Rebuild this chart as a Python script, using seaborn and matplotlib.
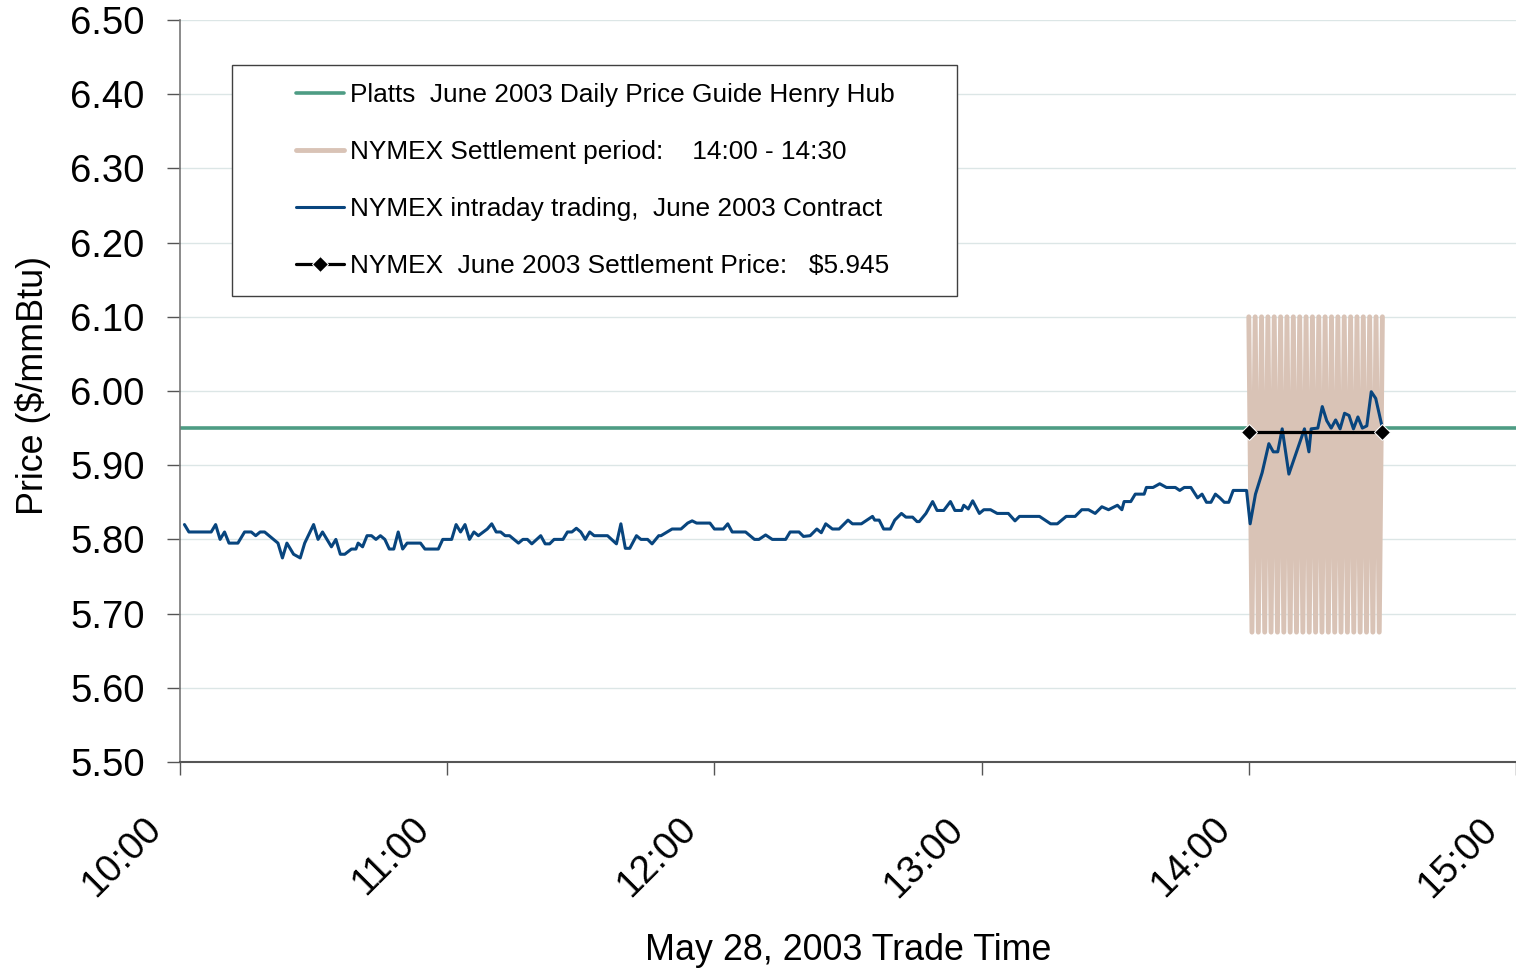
import matplotlib
matplotlib.use("Agg")
import matplotlib.pyplot as plt
import matplotlib.transforms as mtransforms
from matplotlib.patches import Rectangle
from matplotlib.ticker import FormatStrFormatter
import seaborn as sns

# minutes after 10:00 and price of the June 2003 contract
trade_min = [1, 2, 7, 8, 9, 10, 11, 13, 14.5, 16, 17, 18, 19, 21, 22, 23, 24, 25.5, 27, 28,
             30, 31, 32, 34, 35, 36, 37, 38.5, 39.5, 40, 41, 42, 43, 44, 45, 46, 47, 48, 49, 50,
             51, 54, 55, 58, 59, 61, 62, 63, 64, 65, 66, 67, 69, 70, 71, 72, 73, 74, 76, 77,
             78, 79, 81, 82, 83, 84, 86, 87, 88, 89, 90, 91, 92, 93, 96, 98, 99, 100, 101, 102.5,
             103.5, 105, 106, 107.5, 108, 110.5, 112.5, 114, 115, 116, 119, 120, 122, 123, 124, 127, 129, 130, 131.5, 133,
             136, 137, 139, 140, 141.5, 143, 144, 145, 146.5, 148, 150, 151, 153, 155.5, 156, 157, 158, 159.5, 160.5, 162,
             163, 164.5, 165.5, 166, 167.5, 169, 170, 171.5, 173, 174, 175.5, 176, 177, 178, 179.5, 180.5, 182, 183.5, 186, 187.5,
             188.5, 193, 195.5, 197, 199, 201, 202.5, 204, 205.5, 207, 208.5, 210.5, 211.5, 212, 213.5, 214.5, 216.5, 217, 218.5, 220,
             221.5, 223.5, 224.5, 225.5, 227, 228.5, 229.5, 230.5, 231.5, 232.5, 233.5, 234.5, 235.5, 236.5, 239.5, 240.3, 241.5, 243, 244.5, 245.5,
             246.5, 247.5, 249, 252.5, 253.5, 254, 255.5, 256.5, 257.5, 258.5, 259.5, 260.5, 261.5, 262.5, 263.5, 264.5, 265.5, 266.5, 267.5, 268.5,
             270]
trade_price = [5.820, 5.810, 5.810, 5.820, 5.800, 5.810, 5.795, 5.795, 5.810, 5.810, 5.805, 5.810, 5.810, 5.800, 5.795, 5.775, 5.795, 5.780, 5.775, 5.795,
               5.820, 5.800, 5.810, 5.790, 5.800, 5.780, 5.780, 5.787, 5.787, 5.795, 5.790, 5.805, 5.805, 5.800, 5.805, 5.800, 5.787, 5.787, 5.810, 5.787,
               5.795, 5.795, 5.787, 5.787, 5.800, 5.800, 5.820, 5.810, 5.820, 5.800, 5.810, 5.805, 5.814, 5.821, 5.810, 5.810, 5.805, 5.805, 5.795, 5.800,
               5.800, 5.794, 5.805, 5.794, 5.794, 5.800, 5.800, 5.810, 5.810, 5.815, 5.810, 5.800, 5.810, 5.805, 5.805, 5.794, 5.821, 5.788, 5.788, 5.805,
               5.800, 5.800, 5.794, 5.805, 5.805, 5.814, 5.814, 5.822, 5.825, 5.822, 5.822, 5.814, 5.814, 5.821, 5.810, 5.810, 5.800, 5.800, 5.806, 5.800,
               5.800, 5.810, 5.810, 5.804, 5.805, 5.814, 5.809, 5.821, 5.814, 5.814, 5.826, 5.821, 5.821, 5.831, 5.826, 5.826, 5.814, 5.814, 5.826, 5.835,
               5.830, 5.830, 5.824, 5.824, 5.835, 5.851, 5.839, 5.839, 5.851, 5.839, 5.839, 5.846, 5.841, 5.852, 5.835, 5.840, 5.840, 5.835, 5.835, 5.825,
               5.831, 5.831, 5.821, 5.821, 5.831, 5.831, 5.840, 5.840, 5.835, 5.844, 5.840, 5.846, 5.840, 5.851, 5.851, 5.861, 5.861, 5.870, 5.870, 5.875,
               5.870, 5.870, 5.866, 5.870, 5.870, 5.856, 5.861, 5.850, 5.850, 5.861, 5.856, 5.850, 5.850, 5.866, 5.866, 5.821, 5.861, 5.890, 5.929, 5.918,
               5.918, 5.949, 5.888, 5.949, 5.918, 5.949, 5.950, 5.979, 5.960, 5.950, 5.961, 5.949, 5.970, 5.967, 5.949, 5.965, 5.950, 5.953, 5.999, 5.990,
               5.950]

# settlement period band (14:00 - 14:30), drawn as a zig-zag line
band_min = [240.0, 240.71, 241.43, 242.14, 242.86, 243.57, 244.29, 245.0, 245.71, 246.43,
            247.14, 247.86, 248.57, 249.29, 250.0, 250.71, 251.43, 252.14, 252.86, 253.57,
            254.29, 255.0, 255.71, 256.43, 257.14, 257.86, 258.57, 259.29, 260.0, 260.71,
            261.43, 262.14, 262.86, 263.57, 264.29, 265.0, 265.71, 266.43, 267.14, 267.86,
            268.57, 269.29, 270.0]
band_price = [6.10, 5.675, 6.10, 5.675, 6.10, 5.675, 6.10, 5.675, 6.10, 5.675,
              6.10, 5.675, 6.10, 5.675, 6.10, 5.675, 6.10, 5.675, 6.10, 5.675,
              6.10, 5.675, 6.10, 5.675, 6.10, 5.675, 6.10, 5.675, 6.10, 5.675,
              6.10, 5.675, 6.10, 5.675, 6.10, 5.675, 6.10, 5.675, 6.10, 5.675,
              6.10, 5.675, 6.10]

platts_price = 5.95
settle_min = [240, 270]
settle_price = [5.945, 5.945]

tick_min = [0, 60, 120, 180, 240, 300]
tick_labels = ["10:00", "11:00", "12:00", "13:00", "14:00", "15:00"]
y_ticks = [5.50, 5.60, 5.70, 5.80, 5.90, 6.00, 6.10, 6.20, 6.30, 6.40, 6.50]

labels = ["Platts  June 2003 Daily Price Guide Henry Hub",
          "NYMEX Settlement period:    14:00 - 14:30",
          "NYMEX intraday trading,  June 2003 Contract",
          "NYMEX  June 2003 Settlement Price:   $5.945"]

sns.set_theme(style="white")
plt.rcParams["font.family"] = ["Liberation Sans", "DejaVu Sans"]
plt.rcParams["text.color"] = "black"
plt.rcParams["axes.labelcolor"] = "black"
plt.rcParams["xtick.color"] = "black"
plt.rcParams["ytick.color"] = "black"

fig = plt.figure(figsize=(15.16, 9.68), dpi=100)
ax = fig.add_axes([180 / 1516, 1 - 762 / 968, 1336 / 1516, 742 / 968])

ax.axhline(platts_price, color="#4E9C84", lw=2.6, label=labels[0], zorder=2)
sns.lineplot(x=band_min, y=band_price, ax=ax, color="#D9C3B6", lw=3.5,
             label=labels[1], zorder=3)
sns.lineplot(x=trade_min, y=trade_price, ax=ax, color="#08457E", lw=2.2,
             label=labels[2], zorder=4)
sns.lineplot(x=settle_min, y=settle_price, ax=ax, color="black", lw=2.3,
             marker="D", markersize=8, label=labels[3], zorder=5)

ax.set_xlim(0, 300)
ax.set_ylim(5.5, 6.5)
ax.set_yticks(y_ticks)
ax.yaxis.set_major_formatter(FormatStrFormatter("%.2f"))
ax.set_xticks(tick_min)
ax.set_xticklabels(tick_labels)

ax.set_axisbelow(True)
ax.yaxis.grid(True, color="#DCE6E6", lw=1)
ax.xaxis.grid(False)

for s in ["top", "right"]:
    ax.spines[s].set_visible(False)
ax.spines["left"].set_color("#777777")
ax.spines["left"].set_linewidth(1.2)
ax.spines["bottom"].set_color("#555555")
ax.spines["bottom"].set_linewidth(1.5)

ax.tick_params(axis="y", direction="out", length=9.5, width=1, color="#555555",
               labelcolor="black", labelsize=27.5, pad=16, left=True)
ax.tick_params(axis="x", direction="out", length=9.5, width=1, color="#555555",
               labelcolor="black", labelsize=27.5, pad=35, bottom=True)
offset = mtransforms.ScaledTranslation(-24 / 100, 0, fig.dpi_scale_trans)
for lab in ax.get_xticklabels():
    lab.set_rotation(45)
    lab.set_ha("right")
    lab.set_va("center")
    lab.set_rotation_mode("anchor")
    lab.set_transform(lab.get_transform() + offset)

ax.set_xlabel("May 28, 2003 Trade Time", fontsize=25.8, va="top", color="black")
ax.xaxis.set_label_coords(0.5, -0.230)
ax.set_ylabel("Price ($/mmBtu)", fontsize=25.8, va="center", color="black")
ax.yaxis.set_label_coords(-0.110, 0.508)

# legend box
box = Rectangle((232 / 1516, 1 - 296 / 968), 725 / 1516, 231 / 968,
                transform=fig.transFigure, facecolor="white",
                edgecolor="#404040", lw=1.0, zorder=6)
ax.add_patch(box)
handles, _ = ax.get_legend_handles_labels()
leg = ax.legend(handles, labels, loc="upper left",
                bbox_to_anchor=(296 / 1516, 1 - 83 / 968),
                bbox_transform=fig.transFigure, frameon=False,
                fontsize=18.9, handlelength=1.83, handletextpad=0.23,
                labelspacing=1.26, borderpad=0, borderaxespad=0)
leg.set_zorder(7)
for t in leg.get_texts():
    t.set_color("black")

fig.savefig("out.png", dpi=100)
